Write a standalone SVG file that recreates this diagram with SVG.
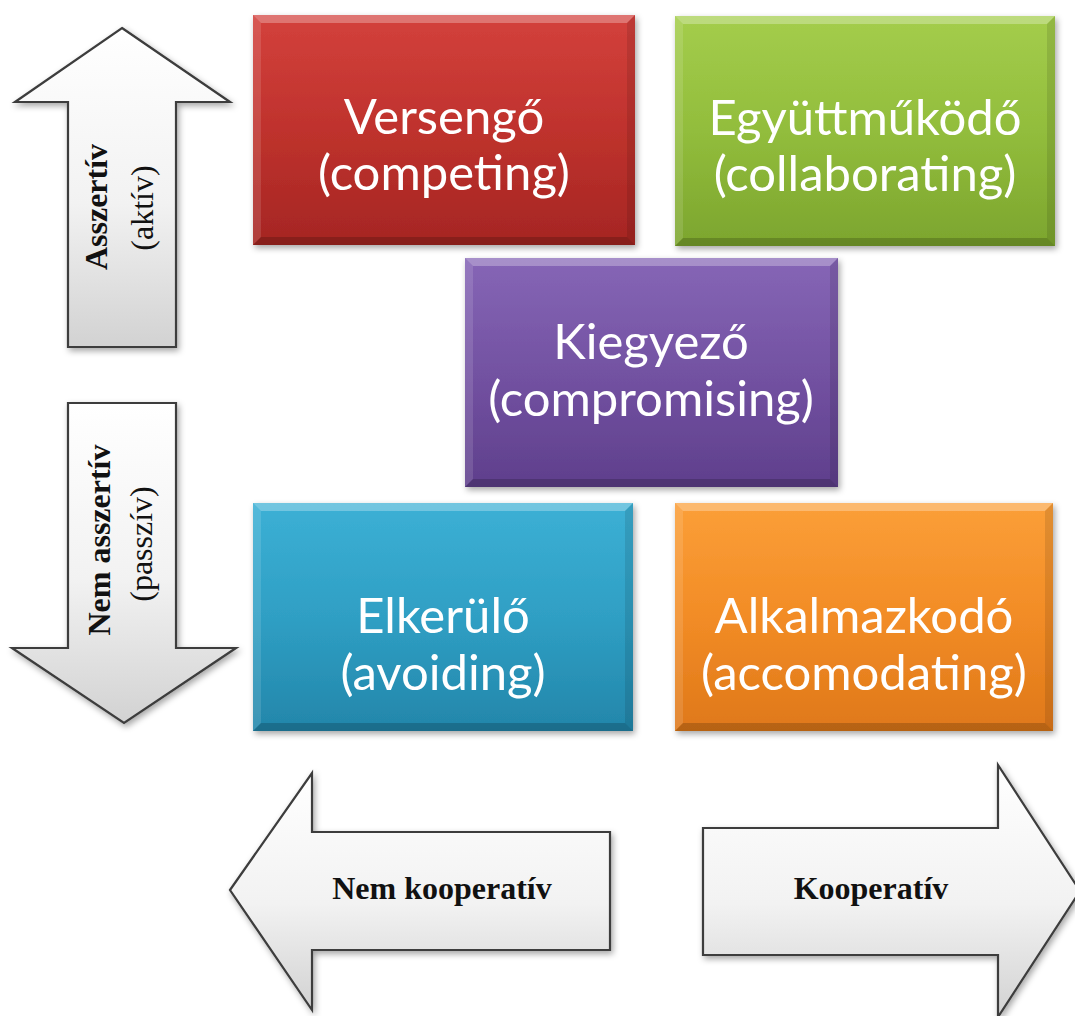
<svg xmlns="http://www.w3.org/2000/svg" width="1075" height="1016" viewBox="0 0 1075 1016">
<defs>
<style>
.box-text{font-family:Lato,"Open Sans","Liberation Sans",sans-serif;font-size:49px;fill:#ffffff;text-anchor:middle}
.arrow{stroke:#3c3c3c;stroke-width:2.2;stroke-linejoin:miter;fill:url(#gArrow);filter:url(#shadow)}
.lbl-b{font-family:"Liberation Serif","Times New Roman",serif;font-weight:bold;font-size:32px;fill:#111;text-anchor:middle}
.lbl-r{font-family:"Liberation Serif","Times New Roman",serif;font-size:32px;fill:#111;text-anchor:middle}
.hi{fill:#ffffff;opacity:0.28}
.hi2{fill:#ffffff;opacity:0.12}
.lo{fill:#000000;opacity:0.18}
.lo2{fill:#000000;opacity:0.1}
</style>
<filter id="shadow" x="-10%" y="-10%" width="125%" height="125%">
<feDropShadow dx="2" dy="3" stdDeviation="3" flood-color="#000" flood-opacity="0.35"/>
</filter>
<linearGradient id="gArrow" x1="0" y1="0" x2="0" y2="1">
<stop offset="0" stop-color="#ffffff"/>
<stop offset="0.55" stop-color="#f2f2f2"/>
<stop offset="1" stop-color="#d2d2d2"/>
</linearGradient>
<linearGradient id="gRed" x1="0" y1="0" x2="0" y2="1">
<stop offset="0" stop-color="#d3413c"/>
<stop offset="0.5" stop-color="#bf322d"/>
<stop offset="1" stop-color="#a52623"/>
</linearGradient>
<linearGradient id="gGreen" x1="0" y1="0" x2="0" y2="1">
<stop offset="0" stop-color="#a4cd4c"/>
<stop offset="0.5" stop-color="#92bd3c"/>
<stop offset="1" stop-color="#7ca52e"/>
</linearGradient>
<linearGradient id="gPurple" x1="0" y1="0" x2="0" y2="1">
<stop offset="0" stop-color="#8666b6"/>
<stop offset="0.5" stop-color="#7352a2"/>
<stop offset="1" stop-color="#5f3f8c"/>
</linearGradient>
<linearGradient id="gBlue" x1="0" y1="0" x2="0" y2="1">
<stop offset="0" stop-color="#3cb0d5"/>
<stop offset="0.5" stop-color="#2f9fc4"/>
<stop offset="1" stop-color="#2386aa"/>
</linearGradient>
<linearGradient id="gOrange" x1="0" y1="0" x2="0" y2="1">
<stop offset="0" stop-color="#fb9f38"/>
<stop offset="0.5" stop-color="#f28c26"/>
<stop offset="1" stop-color="#df7819"/>
</linearGradient>
</defs>
<rect width="1075" height="1016" fill="#ffffff"/>

<g id="connectors">
<g id="arrow-asszertiv">
<polygon class="arrow" points="122,28 230,102 176,102 176,347 68,347 68,102 15,102"/>
<text class="lbl-b" transform="translate(107,207) rotate(-90)">Asszertív</text>
<text class="lbl-r" transform="translate(153,208) rotate(-90)">(aktív)</text>
</g>
<g id="arrow-nem-asszertiv">
<polygon class="arrow" points="68,403 176,403 176,648 236,648 124,723 12,648 68,648"/>
<text class="lbl-b" transform="translate(110,540) rotate(-90)">Nem asszertív</text>
<text class="lbl-r" transform="translate(152,544) rotate(-90)">(passzív)</text>
</g>
<g id="arrow-nem-kooperativ">
<polygon class="arrow" points="230,890 312,773 312,832 610,832 610,950 312,950 312,1010"/>
<text class="lbl-b" x="442" y="899">Nem kooperatív</text>
</g>
<g id="arrow-kooperativ">
<polygon class="arrow" points="703,828 998,828 998,765 1080,891 998,1017 998,955 703,955"/>
<text class="lbl-b" x="871" y="899">Kooperatív</text>
</g>
</g>

<g id="node-versengo" transform="translate(253,15)">
<rect width="382" height="230" fill="url(#gRed)" filter="url(#shadow)"/>
<polygon class="hi" points="0,0 382,0 374,8 8,8"/>
<polygon class="hi2" points="0,0 8,8 8,222 0,230"/>
<polygon class="lo" points="0,230 8,222 374,222 382,230"/>
<polygon class="lo2" points="382,0 382,230 374,222 374,8"/>
<text class="box-text" x="191" y="119">Versengő</text>
<text class="box-text" x="191" y="175">(competing)</text>
</g>

<g id="node-egyuttmukodo" transform="translate(675,16)">
<rect width="380" height="230" fill="url(#gGreen)" filter="url(#shadow)"/>
<polygon class="hi" points="0,0 380,0 372,8 8,8"/>
<polygon class="hi2" points="0,0 8,8 8,222 0,230"/>
<polygon class="lo" points="0,230 8,222 372,222 380,230"/>
<polygon class="lo2" points="380,0 380,230 372,222 372,8"/>
<text class="box-text" x="190" y="119">Együttműködő</text>
<text class="box-text" x="190" y="175">(collaborating)</text>
</g>

<g id="node-kiegyezo" transform="translate(465,258)">
<rect width="373" height="229" fill="url(#gPurple)" filter="url(#shadow)"/>
<polygon class="hi" points="0,0 373,0 365,8 8,8"/>
<polygon class="hi2" points="0,0 8,8 8,221 0,229"/>
<polygon class="lo" points="0,229 8,221 365,221 373,229"/>
<polygon class="lo2" points="373,0 373,229 365,221 365,8"/>
<text class="box-text" x="186" y="101">Kiegyező</text>
<text class="box-text" x="186" y="158">(compromising)</text>
</g>

<g id="node-elkerulo" transform="translate(253,503)">
<rect width="380" height="228" fill="url(#gBlue)" filter="url(#shadow)"/>
<polygon class="hi" points="0,0 380,0 372,8 8,8"/>
<polygon class="hi2" points="0,0 8,8 8,220 0,228"/>
<polygon class="lo" points="0,228 8,220 372,220 380,228"/>
<polygon class="lo2" points="380,0 380,228 372,220 372,8"/>
<text class="box-text" x="190" y="130">Elkerülő</text>
<text class="box-text" x="190" y="187">(avoiding)</text>
</g>

<g id="node-alkalmazkodo" transform="translate(675,503)">
<rect width="378" height="228" fill="url(#gOrange)" filter="url(#shadow)"/>
<polygon class="hi" points="0,0 378,0 370,8 8,8"/>
<polygon class="hi2" points="0,0 8,8 8,220 0,228"/>
<polygon class="lo" points="0,228 8,220 370,220 378,228"/>
<polygon class="lo2" points="378,0 378,228 370,220 370,8"/>
<text class="box-text" x="189" y="130">Alkalmazkodó</text>
<text class="box-text" x="189" y="187">(accomodating)</text>
</g>
</svg>
